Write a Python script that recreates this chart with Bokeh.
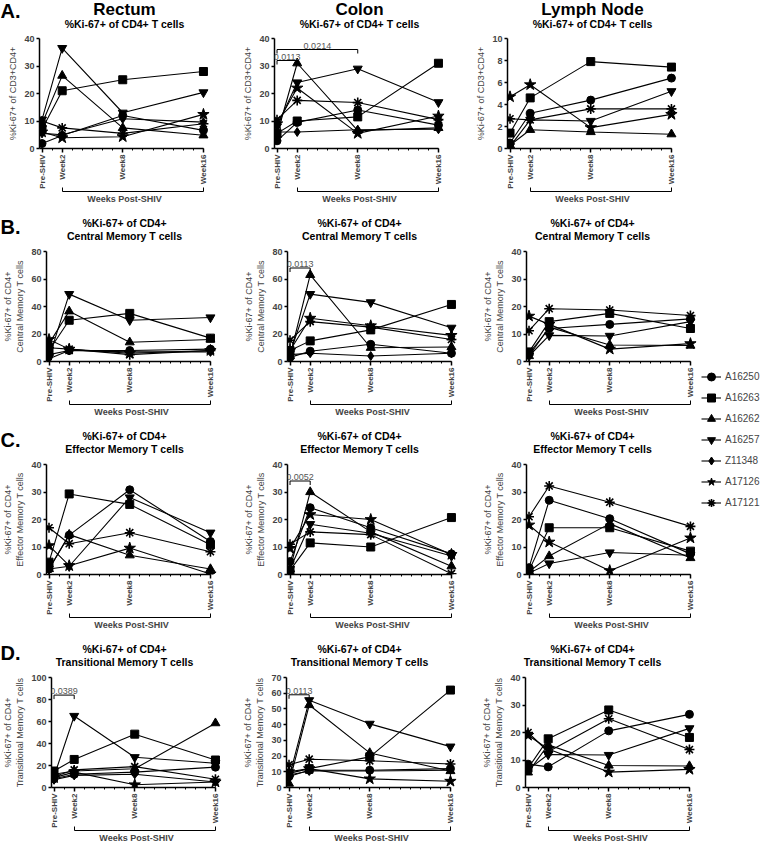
import math
from bokeh.plotting import figure
from bokeh.models import Range1d, LinearAxis, FixedTicker, Label, Legend, LegendItem
from bokeh.layouts import row, column
from bokeh.core.properties import value
from bokeh.embed import file_html
from bokeh.resources import INLINE

FONT = "Liberation Sans"

# ---------------- data ----------------
weeks = [0, 2, 8, 16]
week_labels = ["Pre-SHIV", "Week2", "Week8", "Week16"]
animals = ["A16250", "A16263", "A16262", "A16257", "Z11348", "A17126", "A17121"]
markers = ["circle", "square", "triangle", "inverted_triangle", "diamond", "star", "asterisk"]
marker_sizes = [8, 8, 9, 9, 9, 12, 10]

N = None
# each row: one animal (order of `animals`), values at Pre-SHIV, Week2, Week8, Week16
rectum_cd4 = [[1.8, 4.7, 12.0, 6.6], [7.0, 21.0, 25.0, 28.0], [9.0, 26.5, 7.5, 4.8],
              [10.5, 36.5, 13.0, 20.4], [5.5, 5.0, 10.8, 9.6], [6.0, 3.9, 4.3, 12.4],
              [10.0, 7.5, 5.5, 9.0]]
colon_cd4 = [[2.8, 9.5, 14.0, 8.5], [5.5, 10.0, 11.5, 31.0], [5.0, 31.0, 6.5, 7.5],
             [8.0, 24.0, 29.0, 16.8], [6.0, 6.0, 6.8, 7.0], [9.0, 22.0, 5.5, 11.8],
             [10.5, 17.5, 16.7, 10.5]]
ln_cd4 = [[0.5, 3.2, 4.4, 6.4], [1.4, 4.6, 7.9, 7.4], [0.3, 1.7, 1.5, 1.3],
          [0.2, 2.6, 2.5, 5.2], [N, N, N, N], [4.7, 5.8, 1.9, 3.1],
          [2.7, 2.6, 3.6, 3.6]]

rectum_cm = [[5.0, 8.0, 8.0, 9.0], [8.0, 30.0, 35.0, 17.0], [13.0, 36.5, 14.0, 16.0],
             [3.0, 49.0, 30.0, 32.0], [2.0, 8.0, 7.0, 7.0], [16.0, 9.0, 6.0, 8.0],
             [10.0, 9.0, 5.0, 8.0]]
colon_cm = [[3.0, 7.5, 12.5, 6.0], [8.0, 15.0, 23.0, 41.5], [4.0, 63.0, 10.0, 10.5],
            [6.0, 49.0, 43.0, 24.5], [5.0, 6.0, 4.0, 6.0], [8.0, 31.5, 26.0, 19.0],
            [15.5, 29.0, 25.0, 16.0]]
ln_cm = [[3.0, 12.0, 13.5, 15.5], [3.5, 14.5, 17.5, 12.0], [2.0, 12.5, 6.0, 5.8],
         [2.0, 9.5, 9.3, 14.5], [N, N, N, N], [16.5, 13.5, 4.5, 6.5],
         [11.2, 19.2, 18.7, 16.7]]

rectum_em = [[2.0, 14.3, 30.8, 12.0], [4.5, 29.3, 25.5, 10.8], [2.0, 14.5, 7.0, 2.0],
             [2.0, 3.0, 28.0, 15.2], [N, N, N, N], [10.5, 3.2, 9.6, 0.2],
             [17.0, 11.2, 15.2, 8.3]]
colon_em = [[4.7, 24.3, 17.0, 7.5], [1.5, 11.5, 10.0, 20.7], [2.0, 30.0, 15.5, 3.0],
            [2.0, 18.3, 15.0, 6.7], [N, N, N, N], [9.5, 21.8, 20.0, 7.3],
            [11.0, 15.5, 14.5, 0.3]]
ln_em = [[2.5, 27.0, 20.3, 7.5], [1.5, 17.0, 17.0, 8.5], [1.0, 6.7, 18.5, 6.0],
         [0.5, 4.0, 8.0, 7.0], [N, N, N, N], [18.0, 11.8, 1.4, 13.3],
         [21.0, 32.2, 26.3, 17.5]]

rectum_tm = [[8.0, 12.0, 14.0, 18.5], [15.0, 25.5, 48.5, 25.0], [12.0, 15.0, 17.0, 58.5],
             [10.0, 65.0, 27.5, 22.0], [7.0, 11.0, 12.0, 5.0], [9.0, 14.0, 2.5, 5.0],
             [10.0, 16.0, 19.0, 7.5]]
colon_tm = [[7.0, 11.0, 11.0, 12.0], [9.0, 12.0, 19.5, 62.0], [2.5, 52.5, 22.0, 10.5],
            [6.0, 55.5, 40.5, 26.0], [8.0, 10.5, 10.5, 11.0], [10.0, 12.0, 5.5, 4.0],
            [14.5, 18.0, 17.0, 15.0]]
ln_tm = [[8.5, 7.5, 20.6, 26.6], [7.0, 17.7, 28.2, 18.2], [5.5, 15.5, 8.0, 7.8],
         [6.5, 12.0, 11.8, 21.5], [N, N, N, N], [19.0, 14.0, 5.6, 6.6],
         [20.0, 13.0, 25.0, 13.8]]

# significance brackets: (from week, to week, level, p-value)
colon_cd4_sig = [(0, 2, 32, "0.0113"), (0, 8, 36, "0.0214")]
colon_cm_sig = [(0, 2, 68, "0.0113")]
colon_em_sig = [(0, 2, 34, "0.0052")]
rectum_tm_sig = [(0, 2, 84, "0.0389")]
colon_tm_sig = [(0, 2, 59, "0.0113")]

tissues = ["Rectum", "Colon", "Lymph Node"]
subsets = ["T cells", "Central Memory T cells", "Effector Memory T cells",
           "Transitional Memory T cells"]
letters = ["A.", "B.", "C.", "D."]

# ---------------- layout constants ----------------
FRAME_W = 170
FRAME_H = 110
X_START, X_END = -0.25, 16.6
TOP = 6
BOTTOM = 57
col_borders = [(39, 25), (40, 23), (40, 3)]
col_widths = [bl + FRAME_W + br for bl, br in col_borders]
GRID_W = sum(col_widths)
centers = []
acc = 0
for (bl, br), w in zip(col_borders, col_widths):
    centers.append(acc + bl + FRAME_W / 2)
    acc += w
HEADER_H = [32, 39, 39, 39]


def panel(data, ymax, ystep, ylabel, bl, br, sig=None):
    p = figure(frame_width=FRAME_W, frame_height=FRAME_H,
               x_range=Range1d(X_START, X_END), y_range=Range1d(0, ymax),
               output_backend="svg", toolbar_location=None, title=None,
               min_border_left=bl, min_border_right=br,
               min_border_top=TOP, min_border_bottom=BOTTOM)
    p.outline_line_color = None
    p.xgrid.visible = False
    p.ygrid.visible = False

    xa = p.xaxis[0]
    xa.ticker = FixedTicker(ticks=weeks, minor_ticks=list(range(0, 17)))
    xa.major_label_overrides = {w: lab for w, lab in zip(weeks, week_labels)}
    xa.major_label_orientation = math.pi / 2
    xa.bounds = (X_START, 16)
    xa.major_tick_in = 0
    xa.major_tick_out = 4
    xa.minor_tick_in = 0
    xa.minor_tick_out = 2
    xa.major_label_standoff = 2
    xa.major_label_text_font = FONT
    xa.major_label_text_font_size = "8px"
    xa.major_label_text_font_style = "bold"
    xa.axis_line_width = 1.5
    xa.major_tick_line_width = 1.5

    ya = p.yaxis[0]
    ya.ticker = FixedTicker(ticks=list(range(0, ymax + 1, ystep)))
    ya.major_tick_in = 0
    ya.major_tick_out = 3
    ya.minor_tick_in = 0
    ya.minor_tick_out = 0
    ya.major_label_standoff = 2
    ya.major_label_text_font = FONT
    ya.major_label_text_font_size = "9px"
    ya.major_label_text_font_style = "bold"
    ya.axis_label = ylabel
    ya.axis_label_standoff = 3
    ya.axis_label_text_font = FONT
    ya.axis_label_text_font_size = "9px"
    ya.axis_label_text_font_style = "normal"
    ya.axis_line_width = 1.5
    ya.major_tick_line_width = 1.5

    # bracket under Week2..Week16 with its caption
    ba = LinearAxis(bounds=(2, 16), ticker=FixedTicker(ticks=[], minor_ticks=[2, 16]),
                    major_tick_in=0, major_tick_out=0, minor_tick_in=4, minor_tick_out=0,
                    axis_label="Weeks Post-SHIV", axis_label_standoff=2,
                    axis_label_text_font=FONT, axis_label_text_font_size="9px",
                    axis_label_text_font_style="bold", axis_line_width=1,
                    minor_tick_line_width=1)
    p.add_layout(ba, "below")

    for vals, mk, sz in zip(data, markers, marker_sizes):
        pts = [(w, v) for w, v in zip(weeks, vals) if v is not None]
        if not pts:
            continue
        xs = [a for a, _ in pts]
        ys = [b for _, b in pts]
        p.line(xs, ys, line_color="black", line_width=1.1)
        p.scatter(xs, ys, marker=mk, size=sz, fill_color="black", line_color="black",
                  line_width=1.6 if mk == "asterisk" else 1)

    if sig:
        t = ymax * 4.0 / FRAME_H
        for x0, x1, lvl, txt in sig:
            p.line([x0, x0, x1, x1], [lvl - t, lvl, lvl, lvl - t], line_color="black",
                   line_width=1)
            p.add_layout(Label(x=(x0 + x1) / 2, y=lvl, y_offset=1, text=txt,
                               text_align="center", text_baseline="bottom",
                               text_font=FONT, text_font_size="9px",
                               text_color="#555555"))
    return p


def header(r):
    h = HEADER_H[r]
    hp = figure(width=GRID_W, height=h, x_range=Range1d(0, GRID_W), y_range=Range1d(h, 0),
                output_backend="svg", toolbar_location=None, title=None,
                x_axis_location=None, y_axis_location=None, min_border=0)
    hp.outline_line_color = None
    hp.grid.visible = False
    common = dict(text_font=value(FONT), text_font_style="bold", text_color="black",
                  text_baseline="middle")
    if r == 0:
        hp.text(x=centers, y=[9] * 3, text=tissues, text_font_size="17px",
                text_align="center", **common)
        hp.text(x=centers, y=[23] * 3, text=["%Ki-67+ of CD4+ " + subsets[0]] * 3,
                text_font_size="10.5px", text_align="center", **common)
        hp.text(x=[0], y=[10], text=[letters[r]], text_font_size="20px",
                text_align="left", **common)
    else:
        hp.text(x=centers, y=[h - 23] * 3, text=["%Ki-67+ of CD4+"] * 3,
                text_font_size="10.5px", text_align="center", **common)
        hp.text(x=centers, y=[h - 10] * 3, text=[subsets[r]] * 3,
                text_font_size="10.5px", text_align="center", **common)
        hp.text(x=[0], y=[h - 19], text=[letters[r]], text_font_size="20px",
                text_align="left", **common)
    return hp


row_data = [
    ([rectum_cd4, colon_cd4, ln_cd4], [(40, 10), (40, 10), (10, 2)],
     [None, colon_cd4_sig, None]),
    ([rectum_cm, colon_cm, ln_cm], [(80, 20), (80, 20), (40, 10)],
     [None, colon_cm_sig, None]),
    ([rectum_em, colon_em, ln_em], [(40, 10), (40, 10), (40, 10)],
     [None, colon_em_sig, None]),
    ([rectum_tm, colon_tm, ln_tm], [(100, 20), (70, 10), (40, 10)],
     [rectum_tm_sig, colon_tm_sig, None]),
]

blocks = []
for r, (datas, scales, sigs) in enumerate(row_data):
    figs = []
    for c in range(3):
        bl, br = col_borders[c]
        if r == 3 and c == 0:
            bl, br = 45, br - 6
        ylabel = "%Ki-67+ of CD3+CD4+" if r == 0 else "%Ki-67+ of CD4+\n" + subsets[r]
        ymax, ystep = scales[c]
        figs.append(panel(datas[c], ymax, ystep, ylabel, bl, br, sigs[c]))
    blocks.append(header(r))
    blocks.append(row(*figs))

grid = column(*blocks)

# ---------------- legend ----------------
TOTAL_H = sum(HEADER_H) + 4 * (TOP + FRAME_H + BOTTOM)
LEG_W = 744 - GRID_W
lp = figure(width=LEG_W, height=TOTAL_H, x_range=Range1d(0, 1), y_range=Range1d(0, 1),
            output_backend="svg", toolbar_location=None, title=None,
            x_axis_location=None, y_axis_location=None, min_border=0)
lp.outline_line_color = None
lp.grid.visible = False
nan = float("nan")
items = []
for name, mk, sz in zip(animals, markers, marker_sizes):
    lr = lp.line(x=[nan], y=[nan], line_color="black", line_width=1.1)
    sr = lp.scatter(x=[nan], y=[nan], marker=mk, size=sz, fill_color="black",
                    line_color="black", line_width=1.6 if mk == "asterisk" else 1)
    items.append(LegendItem(label=name, renderers=[lr, sr]))
ITEM_H = 21
leg_top = 366
leg_bottom = leg_top + ITEM_H * len(animals)
legend = Legend(items=items, location=(2, TOTAL_H - leg_bottom), glyph_width=20,
                glyph_height=ITEM_H, label_height=ITEM_H, spacing=0, padding=0, margin=0,
                label_standoff=4, label_text_font=FONT, label_text_font_size="10px",
                border_line_color=None, background_fill_alpha=0)
lp.add_layout(legend)

layout = row(grid, lp)

open("out.html", "w").write(file_html(layout, INLINE))
